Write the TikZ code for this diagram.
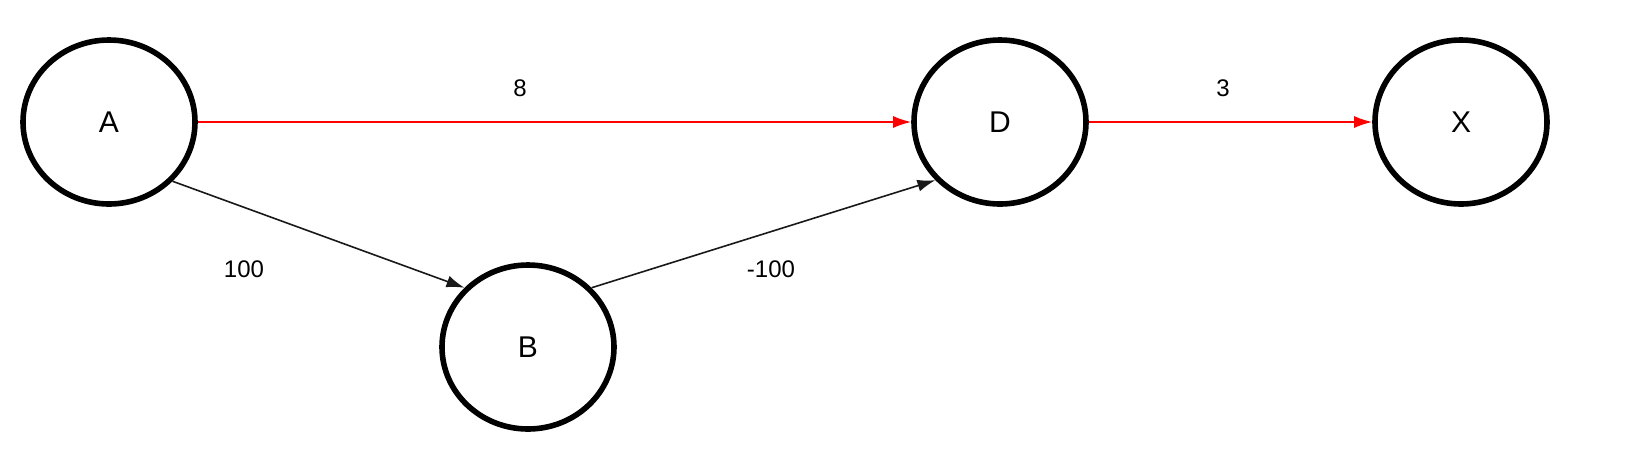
\documentclass[tikz,border=0pt]{standalone}
\usepackage{fontspec}
\setmainfont{Liberation Sans}
\usetikzlibrary{shapes.geometric,arrows.meta}
\definecolor{rouge}{RGB}{255,0,0}
\tikzset{
  sommet/.style={draw,ellipse,line width=2.8pt,minimum width=86pt,minimum height=82pt,inner sep=0pt,font=\fontsize{15}{17}\selectfont},
  poids/.style={inner sep=0pt,font=\fontsize{12}{14}\selectfont},
  arc/.style={line width=0.8pt,->,>={Latex[length=9pt,width=6pt]}}
}

\begin{document}
\begin{tikzpicture}[x=0.5pt,y=-0.5pt]
\useasboundingbox (0,0) rectangle (1651,457);
\node [sommet] (A) at (109,122) {A};
\node [sommet] (B) at (528,347) {B};
\node [sommet] (D) at (1000,122) {D};
\node [sommet] (X) at (1461,122) {X};
\draw [arc, rouge] (A) -- (D);
\draw [arc, rouge] (D) -- (X);
\draw [arc, black!90] (A.-43) -- (B.137);
\draw [arc, black!90] (B.43) -- (D.222);
\node [poids] (pAD) at (520,88) {8};
\node [poids] (pDX) at (1223,88) {3};
\node [poids] (pAB) at (244,269) {100};
\node [poids] (pBD) at (771,269) {-100};
\end{tikzpicture}
\end{document}
